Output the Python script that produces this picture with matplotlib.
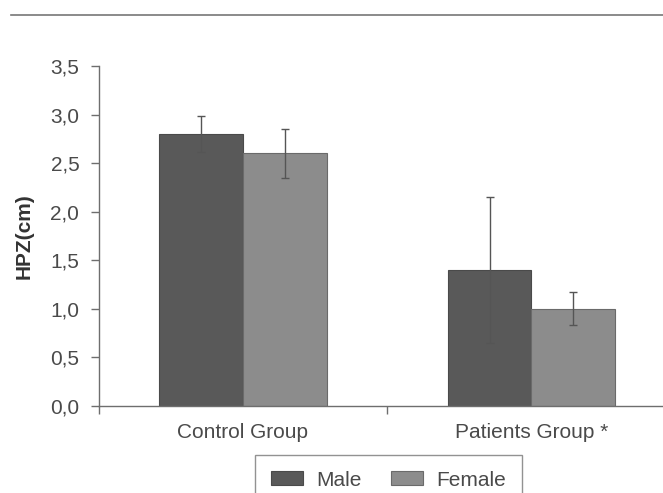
import matplotlib
matplotlib.use("Agg")
import matplotlib.pyplot as plt
from matplotlib.lines import Line2D
import numpy as np

plt.rcParams['font.family'] = ['Liberation Sans', 'DejaVu Sans']

groups = ["Control Group", "Patients Group *"]
series = ["Male", "Female"]
male_mean = [2.8, 1.4]
male_err = [0.19, 0.75]
female_mean = [2.6, 1.0]
female_err = [0.25, 0.17]
y_ticks = [0.0, 0.5, 1.0, 1.5, 2.0, 2.5, 3.0, 3.5]
y_tick_labels = ["0,0", "0,5", "1,0", "1,5", "2,0", "2,5", "3,0", "3,5"]

text_color = "#4a4a4a"
axis_color = "#6e6e6e"
male_color = "#595959"
female_color = "#8c8c8c"

fig = plt.figure(figsize=(6.63, 4.93), dpi=100)
ax = fig.add_axes([0.149, 0.1765, 0.870, 0.6895])

x = np.arange(len(groups))
w = 0.29
ax.bar(x - w / 2, male_mean, w, color=male_color, edgecolor="#4a4a4a",
       linewidth=0.8, label=series[0], zorder=2)
ax.bar(x + w / 2, female_mean, w, color=female_color, edgecolor="#6a6a6a",
       linewidth=0.8, label=series[1], zorder=2)
ax.errorbar(x - w / 2, male_mean, yerr=male_err, fmt="none", ecolor="#555555",
            elinewidth=1.0, capsize=3, capthick=1.0, zorder=3)
ax.errorbar(x + w / 2, female_mean, yerr=female_err, fmt="none", ecolor="#555555",
            elinewidth=1.0, capsize=3, capthick=1.0, zorder=3)

ax.set_xlim(-0.5, 1.5)
ax.set_ylim(0, 3.5)
ax.set_yticks(y_ticks)
ax.set_yticklabels(y_tick_labels)
ax.set_xticks([-0.5, 0.5, 1.5])
ax.set_xticklabels([])
ax.set_xticks(x, minor=True)
ax.set_xticklabels(groups, minor=True)
ax.tick_params(axis="x", which="minor", length=0, pad=12, labelsize=15,
               labelcolor=text_color)
ax.tick_params(axis="x", which="major", length=5.5, color=axis_color, width=1)
ax.tick_params(axis="y", length=5.5, color=axis_color, width=1, pad=8.5,
               labelsize=15, labelcolor=text_color)

for side in ("top", "right"):
    ax.spines[side].set_visible(False)
for side in ("left", "bottom"):
    ax.spines[side].set_color(axis_color)
    ax.spines[side].set_linewidth(1.0)

ax.set_ylabel("HPZ(cm)", fontsize=15, fontweight="bold", color="#333333",
              labelpad=12)

fig.add_artist(Line2D([11 / 663, 1.0], [1 - 15 / 493, 1 - 15 / 493],
                      color="#777777", linewidth=1.2))

leg = fig.legend(loc="upper center", bbox_to_anchor=(0.586, 1 - 455 / 493),
                 ncol=2, fontsize=15, frameon=True, fancybox=False,
                 edgecolor="#777777", handlelength=1.55, handleheight=0.67,
                 handletextpad=0.65, columnspacing=1.4, borderpad=0.75,
                 borderaxespad=0.0)
for t in leg.get_texts():
    t.set_color(text_color)
leg.get_frame().set_linewidth(1.0)

fig.savefig("out.png", dpi=100)
